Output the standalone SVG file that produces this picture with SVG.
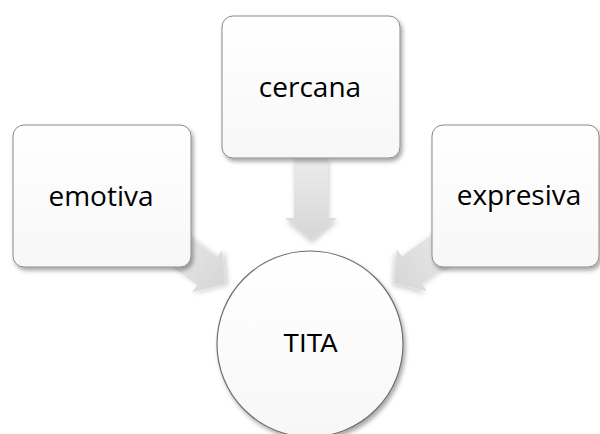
<svg xmlns="http://www.w3.org/2000/svg" width="600" height="434" viewBox="0 0 600 434">
<defs>
  <filter id="sh" x="-20%" y="-20%" width="140%" height="140%">
    <feDropShadow dx="2" dy="3" stdDeviation="2" flood-color="#000" flood-opacity="0.35"/>
  </filter>
  <filter id="sha" x="-30%" y="-30%" width="160%" height="160%">
    <feDropShadow dx="1" dy="3" stdDeviation="2.5" flood-color="#000" flood-opacity="0.2"/>
  </filter>
  <linearGradient id="boxg" x1="0" y1="0" x2="0" y2="1">
    <stop offset="0" stop-color="#ffffff"/>
    <stop offset="1" stop-color="#f7f7f7"/>
  </linearGradient>
  <linearGradient id="arrg" x1="0" y1="0" x2="0" y2="1">
    <stop offset="0" stop-color="#ececec"/>
    <stop offset="1" stop-color="#d6d6d6"/>
  </linearGradient>
  <polygon id="arrow" points="-17,-82 17,-82 17,-22 26,-22 0,0 -26,-22 -17,-22"/>
</defs>
<style>
  .box { fill: url(#boxg); stroke: #8a8a8a; stroke-width: 1; filter: url(#sh); }
  .lbl { font-family: "Open Sans", "Noto Sans", sans-serif; font-size: 28px; fill: #000; text-anchor: middle; }
  .arr { fill: url(#arrg); filter: url(#sha); }
</style>
<rect width="600" height="434" fill="#ffffff"/>
<g id="connectors">
  <use href="#arrow" class="arr" transform="translate(311,240)"/>
  <use href="#arrow" class="arr" transform="translate(225,284) rotate(-54.6)"/>
  <use href="#arrow" class="arr" transform="translate(394,283) rotate(54.2)"/>
</g>
<g id="emotiva">
  <rect class="box" x="13" y="125" width="178" height="142" rx="11"/>
  <text class="lbl" x="101" y="206">emotiva</text>
</g>
<g id="cercana">
  <rect class="box" x="222" y="16" width="178" height="142" rx="11"/>
  <text class="lbl" x="310" y="97">cercana</text>
</g>
<g id="expresiva">
  <rect class="box" x="432" y="125" width="167" height="142" rx="11"/>
  <text class="lbl" x="519" y="205">expresiva</text>
</g>
<g id="tita">
  <circle cx="310" cy="344" r="93" fill="url(#boxg)" stroke="#6e6e6e" stroke-width="1.2" filter="url(#sh)"/>
  <text x="310.5" y="352" font-family="'Liberation Sans', Arial, sans-serif" font-size="26" text-anchor="middle" fill="#000">TITA</text>
</g>
</svg>
